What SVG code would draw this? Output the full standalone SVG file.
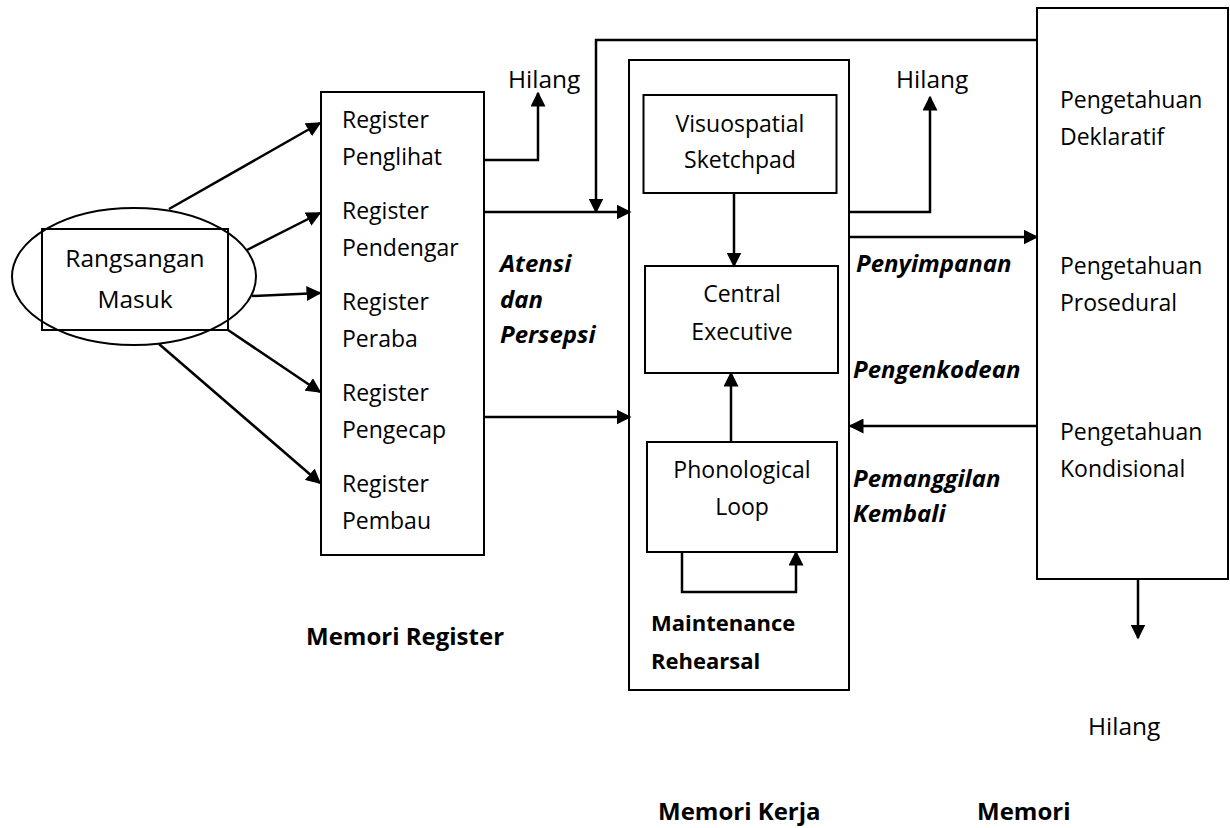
<svg xmlns="http://www.w3.org/2000/svg" width="1230" height="828" viewBox="0 0 1230 828">
<style>
  .box { fill: none; stroke: #000; stroke-width: 2; }
  .ln { fill: none; stroke: #000; stroke-width: 2.5; marker-end: url(#ah); }
  .pl { fill: none; stroke: #000; stroke-width: 2.5; }
  text { font-family: "Open Sans", "Noto Sans", sans-serif; fill: #000; }
  .t { font-size: 23px; }
  .tl { font-size: 24.5px; }
  .b { font-size: 24px; font-weight: bold; }
  .bi { font-size: 24px; font-weight: bold; font-style: italic; }
  .c { text-anchor: middle; }
</style>
<defs>
  <marker id="ah" viewBox="0 0 10 10" markerUnits="userSpaceOnUse" markerWidth="15" markerHeight="15" refX="9" refY="5" orient="auto">
    <path d="M0,0 L10,5 L0,10 z" fill="#000"/>
  </marker>
</defs>
<rect width="1230" height="828" fill="#fff"/>

<g id="rangsangan">
  <ellipse cx="134" cy="276.5" rx="122" ry="68.5" class="box" stroke-width="1.8"/>
  <rect x="42" y="229" width="186" height="101" fill="#fff" class="box"/>
  <text class="tl c" x="135" y="267">Rangsangan</text>
  <text class="tl c" x="135" y="308">Masuk</text>
</g>

<g id="memori-register">
  <rect x="321" y="92" width="163" height="463" class="box"/>
  <text class="t" x="342" y="128">Register</text>
  <text class="t" x="342" y="165">Penglihat</text>
  <text class="t" x="342" y="219">Register</text>
  <text class="t" x="342" y="256">Pendengar</text>
  <text class="t" x="342" y="310">Register</text>
  <text class="t" x="342" y="347">Peraba</text>
  <text class="t" x="342" y="401">Register</text>
  <text class="t" x="342" y="438">Pengecap</text>
  <text class="t" x="342" y="492">Register</text>
  <text class="t" x="342" y="529">Pembau</text>
</g>

<g id="memori-kerja">
  <rect x="629" y="60" width="220" height="630" class="box"/>
</g>
<g id="visuospatial">
  <rect x="643.5" y="95" width="193" height="98" class="box"/>
  <text class="t c" x="740" y="132">Visuospatial</text>
  <text class="t c" x="740" y="168">Sketchpad</text>
</g>
<g id="central-executive">
  <rect x="645" y="266" width="193" height="107" class="box"/>
  <text class="t c" x="742" y="302">Central</text>
  <text class="t c" x="742" y="340">Executive</text>
</g>
<g id="phonological-loop">
  <rect x="647" y="442" width="190" height="110" class="box"/>
  <text class="t c" x="742" y="478">Phonological</text>
  <text class="t c" x="742" y="515">Loop</text>
</g>

<g id="memori-jangka-panjang">
  <rect x="1037" y="8" width="191" height="571" class="box"/>
  <text class="t" x="1060" y="108">Pengetahuan</text>
  <text class="t" x="1060" y="145">Deklaratif</text>
  <text class="t" x="1060" y="274">Pengetahuan</text>
  <text class="t" x="1060" y="311">Prosedural</text>
  <text class="t" x="1060" y="440">Pengetahuan</text>
  <text class="t" x="1060" y="477">Kondisional</text>
</g>

<g id="connectors">
  <line class="ln" x1="169" y1="209" x2="320" y2="123"/>
  <line class="ln" x1="247" y1="250" x2="320" y2="213"/>
  <line class="ln" x1="252" y1="296" x2="320" y2="293"/>
  <line class="ln" x1="228" y1="330" x2="320" y2="392"/>
  <line class="ln" x1="159" y1="344" x2="320" y2="483"/>
  <polyline class="ln" points="484,160 538,160 538,93"/>
  <polyline class="ln" points="1037,40 596,40 596,212"/>
  <line class="ln" x1="484" y1="212" x2="630" y2="212"/>
  <line class="ln" x1="484" y1="417" x2="630" y2="417"/>
  <polyline class="ln" points="849,212 930,212 930,97"/>
  <line class="ln" x1="849" y1="237" x2="1037" y2="237"/>
  <line class="ln" x1="1037" y1="426" x2="850" y2="426"/>
  <line class="ln" x1="734" y1="193" x2="734" y2="266"/>
  <line class="ln" x1="731" y1="442" x2="731" y2="373"/>
  <polyline class="ln" points="682,552 682,592 796,592 796,552"/>
  <line class="ln" x1="1138" y1="579" x2="1138" y2="638"/>
</g>

<g id="labels">
  <text class="tl" x="508" y="88">Hilang</text>
  <text class="tl" x="896" y="88">Hilang</text>
  <text class="tl" x="1088" y="735">Hilang</text>
  <text class="bi" x="500" y="272">Atensi</text>
  <text class="bi" x="500" y="308">dan</text>
  <text class="bi" x="500" y="343">Persepsi</text>
  <text class="bi" x="856" y="272">Penyimpanan</text>
  <text class="bi" x="853" y="378">Pengenkodean</text>
  <text class="bi" x="853" y="487">Pemanggilan</text>
  <text class="bi" x="853" y="522">Kembali</text>
  <text class="b" x="651" y="631" style="font-size:22px">Maintenance</text>
  <text class="b" x="651" y="669" style="font-size:22px">Rehearsal</text>
  <text class="b" x="306" y="645">Memori Register</text>
  <text class="b" x="658" y="820">Memori Kerja</text>
  <text class="b" x="977" y="820">Memori</text>
</g>
</svg>
